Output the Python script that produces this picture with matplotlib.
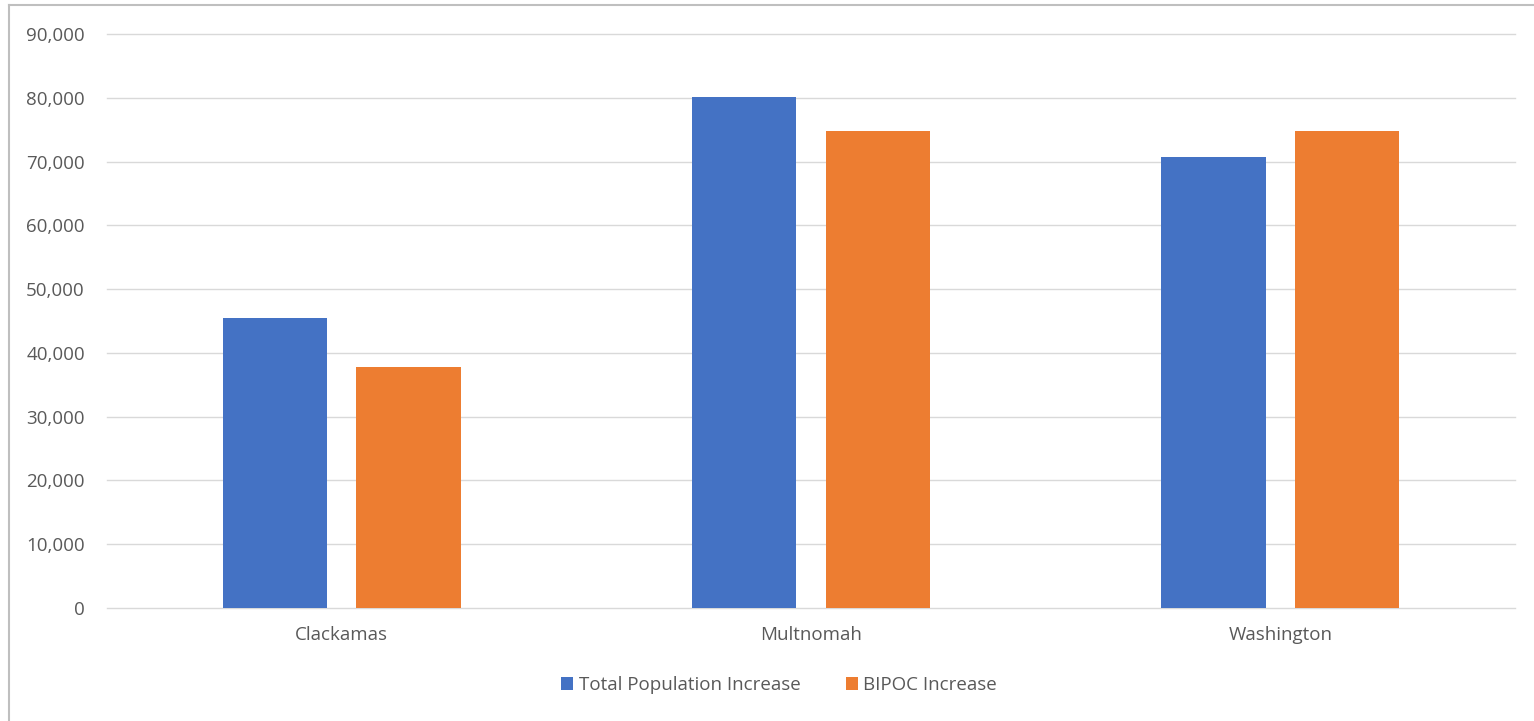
import numpy as np
import matplotlib
matplotlib.use("Agg")
import matplotlib.pyplot as plt
from matplotlib.lines import Line2D
from matplotlib.ticker import FuncFormatter, MultipleLocator

# datos
counties = ["Clackamas", "Multnomah", "Washington"]
total_increase = [45500, 80100, 70700]
bipoc_increase = [37800, 74800, 74800]
series_names = ["Total Population Increase", "BIPOC Increase"]

BLUE = "#4472C4"
ORANGE = "#ED7D31"
TEXT = "#595959"
GRID = "#D9D9D9"

plt.rcParams["font.family"] = ["Open Sans", "DejaVu Sans"]

fig = plt.figure(figsize=(15.34, 7.21), dpi=100)
ax = fig.add_axes([107 / 1534, 1 - 608 / 721, (1515 - 107) / 1534, (608 - 34) / 721])

x = np.arange(len(counties))
w = 0.222
off = 0.1425
ax.bar(x - off, total_increase, w, color=BLUE, label=series_names[0], zorder=3)
ax.bar(x + off, bipoc_increase, w, color=ORANGE, label=series_names[1], zorder=3)

ax.set_xlim(-0.5, len(counties) - 0.5)
ax.set_ylim(0, 90000)
ax.yaxis.set_major_locator(MultipleLocator(10000))
ax.yaxis.set_major_formatter(FuncFormatter(lambda v, p: f"{int(v):,}"))
ax.set_xticks(x)
ax.set_xticklabels(counties)

ax.grid(axis="y", color=GRID, linewidth=1.0, zorder=0)
for gl in ax.get_ygridlines():
    gl.set_clip_on(False)
for s in ax.spines.values():
    s.set_visible(False)
ax.tick_params(axis="both", length=0, colors=TEXT, labelsize=13.5)
ax.tick_params(axis="y", pad=16)
ax.tick_params(axis="x", pad=13)

leg = fig.legend(loc="center", bbox_to_anchor=(779 / 1534, 1 - 685 / 721), ncol=2,
                 frameon=False, fontsize=13.5, handlelength=0.65, handleheight=0.65,
                 handletextpad=0.3, columnspacing=2.4, labelcolor=TEXT)

# marco del grafico
fig.add_artist(Line2D([9 / 1534, 9 / 1534], [0, 1 - 5 / 721], transform=fig.transFigure,
                      color="#BFBFBF", linewidth=1.5))
fig.add_artist(Line2D([9 / 1534, 1], [1 - 5 / 721, 1 - 5 / 721], transform=fig.transFigure,
                      color="#BFBFBF", linewidth=1.5))

fig.savefig("out.png", dpi=100, facecolor="white")
